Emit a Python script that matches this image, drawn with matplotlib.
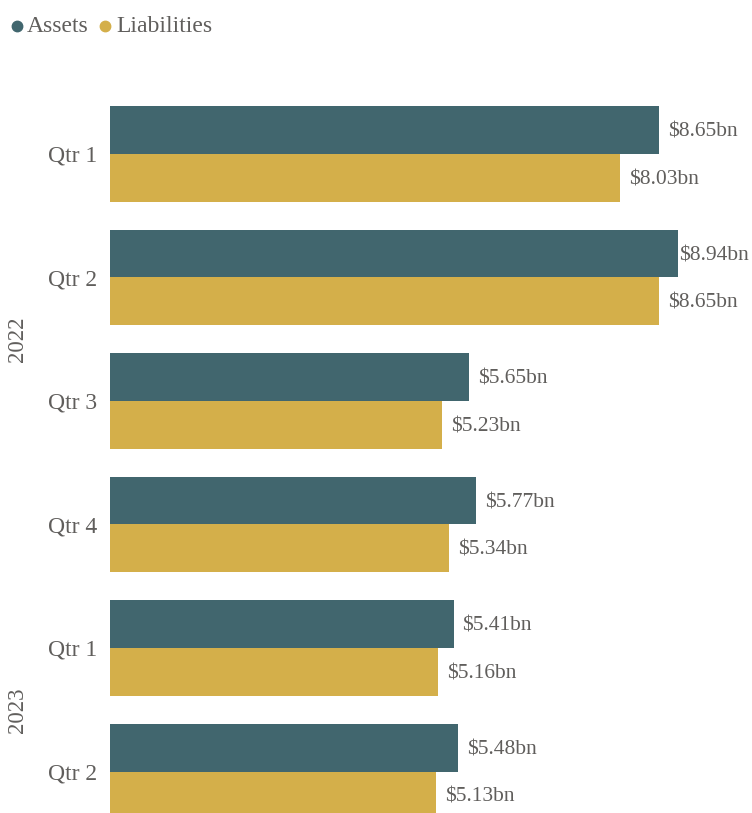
import numpy as np
import matplotlib.pyplot as plt
from matplotlib.lines import Line2D

plt.rcParams['font.family'] = ['Liberation Serif', 'DejaVu Serif']

quarters = ['Qtr 1', 'Qtr 2', 'Qtr 3', 'Qtr 4', 'Qtr 1', 'Qtr 2']
years = ['2022', '2022', '2022', '2022', '2023', '2023']
assets = [8.65, 8.94, 5.65, 5.77, 5.41, 5.48]
liabilities = [8.03, 8.65, 5.23, 5.34, 5.16, 5.13]

c_assets = '#41666e'
c_liab = '#d4af4a'
c_text = '#605e5c'

W, H = 752, 813
fig = plt.figure(figsize=(W / 100, H / 100), dpi=100)
# axes from x=110px to right edge, y=80px to bottom edge
ax = fig.add_axes([110 / W, 0, 1 - 110 / W, (H - 80) / H])

y = np.arange(len(quarters))
bh = 0.385
ax.barh(y - bh / 2, assets, height=bh, color=c_assets, label='Assets')
ax.barh(y + bh / 2, liabilities, height=bh, color=c_liab, label='Liabilities')

xmax = 10.11
ax.set_xlim(0, xmax)
ax.set_ylim(5.336, -0.599)

px_per_unit = (W - 110) / xmax
for i in range(len(quarters)):
    for val, off in ((assets[i], -bh / 2), (liabilities[i], bh / 2)):
        end_px = 110 + val * px_per_unit
        gap = 9 if end_px + 9 + 74 <= W else 1
        ax.annotate(f'${val:.2f}bn', (val, y[i] + off), xytext=(gap, -2),
                    textcoords='offset pixels', va='center', ha='left',
                    fontsize=15.5, color=c_text, annotation_clip=False)

ax.set_yticks(y)
ax.set_yticklabels(quarters, fontsize=17, color=c_text)
ax.tick_params(axis='y', length=0, pad=9)
ax.set_xticks([])
for s in ax.spines.values():
    s.set_visible(False)

# year group labels
for yr in ['2022', '2023']:
    idx = [i for i, v in enumerate(years) if v == yr]
    yc = (idx[0] + idx[-1]) / 2
    ax.annotate(yr, (0, yc), xycoords=('figure fraction', 'data'),
                xytext=(18, 0), textcoords='offset pixels',
                rotation=90, ha='center', va='center', fontsize=16.5, color=c_text,
                annotation_clip=False)

# legend drawn by hand to match the tight spacing
for mx, tx, col, lab in ((17, 27, c_assets, 'Assets'), (105, 116, c_liab, 'Liabilities')):
    fig.add_artist(Line2D([mx / W], [1 - 26 / H], marker='o', ls='', color=col,
                          markersize=7.5, transform=fig.transFigure))
    fig.text(tx / W, 1 - 27 / H, lab, ha='left', va='center', fontsize=17, color=c_text)

fig.savefig('out.png', dpi=100)
